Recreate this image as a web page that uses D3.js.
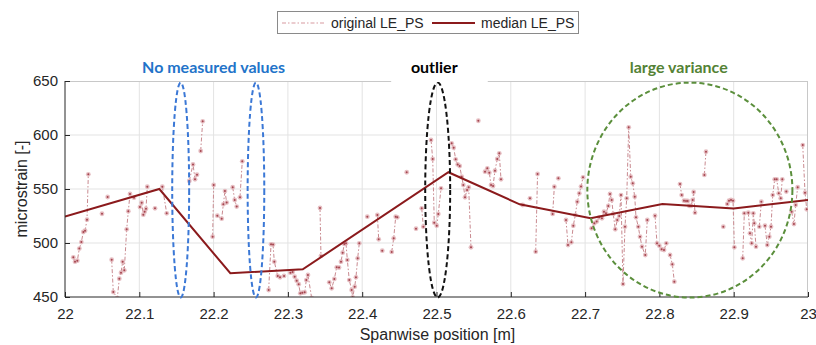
<!DOCTYPE html>
<html>
<head>
<meta charset="utf-8">
<script src="https://cdn.jsdelivr.net/npm/d3@7"></script>
<style>
  body { margin: 0; background: #fff; }
  #chart-container { width: 816px; height: 345px; }
  text { font-family: "Liberation Sans", Arial, sans-serif; fill: #262626; }
  .grid line { stroke: #e3e3e3; stroke-width: 1; }
  .axis path, .axis line { stroke: #262626; }
  .axis text { font-size: 15px; fill: #262626; }
  .note { font-family: Lato, "Open Sans", sans-serif; font-weight: bold; font-size: 16px; }
</style>
</head>
<body>
<div id="chart-container"></div>
<script>
// Spanwise strain chart
const xTicks = [22, 22.1, 22.2, 22.3, 22.4, 22.5, 22.6, 22.7, 22.8, 22.9, 23];
const yTicks = [450, 500, 550, 600, 650];

// original LE_PS samples; null breaks the dash-dot line between runs
const origPos = [
  22.0112, 22.0135, 22.0166, 22.0193, 22.022, 22.0247, 22.027, 22.0296, 22.0314, null,
  22.0498, null, 22.0574, null,
  22.0628, 22.065, 22.0704, 22.0731, 22.0754, 22.0776, 22.0798, 22.083, 22.0852, 22.0875, null,
  22.0929, null,
  22.1009, 22.1032, 22.1054, 22.1072, 22.109, 22.1108, null,
  22.1211, null,
  22.131, 22.1369, null,
  22.1673, 22.1723, 22.175, 22.1777, null,
  22.1826, 22.1853, null,
  22.1987, 22.2001, null,
  22.205, 22.2109, 22.2131, 22.2153, 22.2176, null,
  22.2257, 22.2284, 22.2311, null,
  22.2355, 22.2386, null,
  22.2741, 22.2773, 22.28, 22.2817, 22.2863, 22.2894, 22.2948, null,
  22.3033, 22.3064, 22.3091, 22.3118, 22.3145, 22.3167, 22.3194, 22.3226, 22.3248, 22.327, 22.332, null,
  22.3432, 22.3445, null,
  22.3557, 22.3589, 22.3625, 22.3657, 22.3688, 22.3715, 22.3737, 22.3759, 22.3782, 22.38, 22.3826, 22.3858, 22.3872, 22.3899, 22.3916, 22.3939, 22.3961, null,
  22.4069, null,
  22.4204, 22.4222, null,
  22.427, null,
  22.4397, 22.4424, 22.4451, 22.4473, null,
  22.4599, null, 22.4724, null,
  22.4801, 22.4823, null,
  22.4926, 22.4949, 22.497, 22.5003, 22.5024, 22.5061, null,
  22.5204, 22.5231, 22.5258, 22.5285, 22.5312, 22.5339, 22.5361, 22.5384, 22.5411, 22.5433, 22.5464, null,
  22.5563, null,
  22.5653, 22.5684, 22.5711, 22.5734, 22.5761, 22.5787, 22.5818, 22.5845, 22.5868, null,
  22.616, null, 22.6258, null,
  22.6335, 22.636, null,
  22.6563, 22.6586, null,
  22.664, null,
  22.6743, 22.677, 22.6815, 22.6841, 22.6868, 22.6895, 22.6922, 22.6945, 22.6972, null,
  22.7088, 22.7124, 22.7156, 22.7191, 22.7227, 22.7254, 22.7281, 22.7312, 22.7335, 22.7358, 22.7379, 22.7406, 22.7433, 22.746,
  22.7483, 22.751, 22.7537, 22.756, 22.7587, 22.7614, 22.7641, 22.7668, 22.7685, 22.7716, 22.7739, 22.7766, 22.781, 22.7837, null,
  22.7941, 22.7968, 22.7999, 22.803, 22.8062, 22.8093, null,
  22.8143, 22.8174, 22.8201, null,
  22.8277, 22.83, 22.8331, 22.8358, 22.8381, 22.8403, 22.8425, 22.8448, 22.8461, 22.8479, null,
  22.8605, 22.8627, null,
  22.886, null,
  22.8914, 22.8937, 22.8964, 22.8991, 22.9009, null,
  22.9121, 22.9143, null,
  22.9197, 22.9219, 22.9242, 22.9264, 22.9277, 22.93, null,
  22.9345, 22.9372, null,
  22.9421, 22.9452, 22.9479, 22.9502, 22.9525, 22.9552, 22.9579, 22.9606, 22.9633, 22.9654, null,
  22.9708, null,
  22.978, 22.9811, 22.9834, 22.9861, null,
  22.9929, 22.996, 22.9983
];
const origVal = [
  486.7, 482.7, 483.6, 494.8, 500.9, 510.2, 511.4, 521.6, 563.6, null,
  527.1, null, 542.6, null,
  484.6, 454.6, 449, 467, 472.5, 482.7, 474.7, 512.7, 529.4, 545.4, null,
  542, null,
  533.3, 537.3, 526.2, 529, 531.8, 552.1, null,
  532.1, null,
  552.1, 527.5, null,
  557.4, 572.8, 559, 563.3, null,
  585.2, 612.7, null,
  505.9, 553.7, null,
  525.3, 522.5, 535.8, 548.1, 537.4, null,
  551.6, 539.8, 533.7, null,
  542.3, 575.6, null,
  456.5, 498.8, 498.5, 482.7, 469.5, 468.2, 469.5, null,
  472.5, 473.1, 468.8, 465.1, 461.8, 453.4, 454, 454.3, 465.7, 470.4, 449, null,
  532.4, 488, null,
  463.6, 458, 466.7, 477.5, 477.2, 482.7, 491, 499.1, 499.7, 484.3, 465.7, 456.5, 449.7, 459.6, 468.2, 485.8, 499.7, null,
  524.4, null,
  526, 503.4, null,
  492.9, null,
  491.7, 504.3, 524.4, 523.8, null,
  565.5, null, 513.3, null,
  532.1, 515.1, null,
  595.4, 577.8, 518.8, 516, 526.9, 550.6, null,
  592.3, 588.3, 577.5, 572.8, 571.3, 561.4, 553.7, 542.3, 549.1, 551.6, 496, null,
  613.2, null,
  566, 569.1, 565.1, 553.7, 552.8, 567, 577.8, 583, 559, null,
  535.2, null, 541.4, null,
  492, 563.9, null,
  526.9, 552.1, null,
  559.9, null,
  521.3, 498.1, 500.6, 516, 525.9, 538.3, 546, 552.2, 560.8, null,
  513.6, 518.2, 519.8, 523.8, 522.9, 529, 527.5, 534.3, 545.4, 539.8, 526.9, 512.7, 521.3, 525,
  544.4, 462, 515.1, 541.4, 607.1, 561.4, 555.3, 542.9, 523.8, 515.1, 505.9, 496.6, 488.9, 521.3, null,
  525.3, 499.7, 497.5, 494.2, 493.5, 499.7, null,
  488.9, 480.3, 464.2, null,
  554.6, 544.4, 539.2, 538.9, 538.9, 534.3, 534.3, 539.8, 547.2, 528.1, null,
  563, 584.6, null,
  515.1, null,
  536.1, 539.2, 539.8, 539.2, 496, null,
  485.8, 527.5, null,
  528.1, 509, 499.7, 527.5, 518.2, 496.6, null,
  515.1, 538.3, null,
  516, 498.1, 505.9, 515.1, 544.4, 559, 559, 546, 541.4, 559, null,
  547.6, null,
  529, 517.6, 535.2, 551.6, null,
  590.7, 546.6, 531.2
];

// median LE_PS
const medianPos = [22, 22.127, 22.2225, 22.32, 22.516, 22.612, 22.7075, 22.804, 22.9, 23];
const medianVal = [524.4, 550, 472, 475.6, 565.5, 535.8, 523, 536, 532, 539.8];

// hand-drawn annotations: label, colour, centre x, radii (x in m, y in microstrain)
const noteText = ["No measured values", "outlier", "large variance"];
const noteColor = ["#2273c9", "#000000", "#548235"];
const noteX = [22.2, 22.497, 22.826];
const ringX = [22.1557, 22.257, 22.5016, 22.841];
const ringColor = ["#3b78d6", "#3b78d6", "#111111", "#5b8f3c"];
const ringRx = [0.0114, 0.0112, 0.0168, 0.138];
const ringY = 549;
const ringRy = 99.5;

(function() {
  const width = 816, height = 345;
  const margin = { top: 81, right: 8, bottom: 48, left: 65 };
  const innerWidth = width - margin.left - margin.right;
  const innerHeight = height - margin.top - margin.bottom;

  const svg = d3.select('#chart-container')
    .append("svg")
    .attr("width", width)
    .attr("height", height);

  const g = svg.append("g")
    .attr("transform", `translate(${margin.left},${margin.top})`);

  const xScale = d3.scaleLinear().domain([22, 23]).range([0, innerWidth]);
  const yScale = d3.scaleLinear().domain([450, 650]).range([innerHeight, 0]);

  svg.append("defs").append("clipPath").attr("id", "plot-clip")
    .append("rect").attr("width", innerWidth).attr("height", innerHeight);

  // grid
  g.append("g").attr("class", "grid")
    .selectAll("line").data(xTicks.slice(1, -1)).enter().append("line")
    .attr("x1", d => xScale(d)).attr("x2", d => xScale(d))
    .attr("y1", 0).attr("y2", innerHeight);
  g.append("g").attr("class", "grid")
    .selectAll("line").data(yTicks.slice(1, -1)).enter().append("line")
    .attr("x1", 0).attr("x2", innerWidth)
    .attr("y1", d => yScale(d)).attr("y2", d => yScale(d));

  // box top / right
  g.append("line").attr("x1", 0).attr("x2", innerWidth).attr("y1", 0.5).attr("y2", 0.5)
    .attr("stroke", "#c8c8c8");
  g.append("line").attr("x1", innerWidth - 0.5).attr("x2", innerWidth - 0.5)
    .attr("y1", 0).attr("y2", innerHeight).attr("stroke", "#c8c8c8");

  const plot = g.append("g").attr("clip-path", "url(#plot-clip)");

  const orig = origPos.map((p, i) => ({ x: p, y: origVal[i] }));

  const line = d3.line()
    .defined(d => d.x !== null && d.y !== null)
    .x(d => xScale(d.x))
    .y(d => yScale(d.y));

  plot.append("path")
    .datum(orig)
    .attr("d", line)
    .attr("fill", "none")
    .attr("stroke", "#c98a90")
    .attr("stroke-width", 1)
    .attr("stroke-dasharray", "4,2,1.5,2");

  const pts = orig.filter(d => d.x !== null);
  plot.selectAll(".halo").data(pts).enter().append("circle")
    .attr("class", "halo")
    .attr("cx", d => xScale(d.x)).attr("cy", d => yScale(d.y))
    .attr("r", 2.4).attr("fill", "#e2b4b8").attr("opacity", 0.85);
  plot.selectAll(".dot").data(pts).enter().append("circle")
    .attr("class", "dot")
    .attr("cx", d => xScale(d.x)).attr("cy", d => yScale(d.y))
    .attr("r", 1).attr("fill", "#a5454f");

  plot.append("path")
    .datum(medianPos.map((p, i) => ({ x: p, y: medianVal[i] })))
    .attr("d", line)
    .attr("fill", "none")
    .attr("stroke", "#8b1a1c")
    .attr("stroke-width", 2);

  // axes
  g.append("g").attr("class", "axis")
    .attr("transform", `translate(0,${innerHeight})`)
    .call(d3.axisBottom(xScale).tickValues(xTicks).tickSize(-5).tickPadding(11)
      .tickFormat(d3.format("")))
    .call(a => a.select(".domain").attr("d", `M0,0H${innerWidth}`));

  g.append("g").attr("class", "axis")
    .call(d3.axisLeft(yScale).tickValues(yTicks).tickSize(-5).tickPadding(7))
    .call(a => a.select(".domain").attr("d", `M0,0V${innerHeight}`));

  g.selectAll(".axis text").attr("font-family", null);

  svg.append("text")
    .attr("x", margin.left + innerWidth / 2 + 1)
    .attr("y", 340)
    .attr("text-anchor", "middle")
    .style("font-size", "16px")
    .text("Spanwise position [m]");

  svg.append("text")
    .attr("transform", `translate(27,${margin.top + innerHeight / 2}) rotate(-90)`)
    .attr("text-anchor", "middle")
    .style("font-size", "16px")
    .text("microstrain [-]");

  // white patch behind "outlier" covers the top border
  svg.append("rect")
    .attr("x", margin.left + xScale(22.439)).attr("y", 48)
    .attr("width", xScale(22.13)).attr("height", 34)
    .attr("fill", "#fff");

  // annotation rings
  g.selectAll(".ring").data(ringX).enter().append("ellipse")
    .attr("class", "ring")
    .attr("cx", d => xScale(d))
    .attr("cy", yScale(ringY))
    .attr("rx", (d, i) => xScale(22 + ringRx[i]))
    .attr("ry", yScale(650 - ringRy))
    .attr("fill", "none")
    .attr("stroke", (d, i) => ringColor[i])
    .attr("stroke-width", 2)
    .attr("stroke-dasharray", "5,3");

  svg.selectAll(".note").data(noteText).enter().append("text")
    .attr("class", "note")
    .attr("x", (d, i) => margin.left + xScale(noteX[i]))
    .attr("y", 73)
    .attr("text-anchor", "middle")
    .style("fill", (d, i) => noteColor[i])
    .text(d => d);

  // legend
  const legend = svg.append("g").attr("transform", "translate(277,11)");
  legend.append("rect")
    .attr("x", 0.5).attr("y", 0.5).attr("width", 301).attr("height", 22)
    .attr("fill", "#fff").attr("stroke", "#8a8a8a");
  legend.append("line")
    .attr("x1", 5).attr("x2", 48).attr("y1", 12).attr("y2", 12)
    .attr("stroke", "#d89aa0").attr("stroke-width", 1.2)
    .attr("stroke-dasharray", "4,2,1.5,2");
  legend.append("text").attr("x", 54).attr("y", 16.5)
    .style("font-size", "14px").text("original LE_PS");
  legend.append("line")
    .attr("x1", 155).attr("x2", 198).attr("y1", 12).attr("y2", 12)
    .attr("stroke", "#8b1a1c").attr("stroke-width", 2);
  legend.append("text").attr("x", 204).attr("y", 16.5)
    .style("font-size", "14px").text("median LE_PS");
})();
</script>
</body>
</html>
